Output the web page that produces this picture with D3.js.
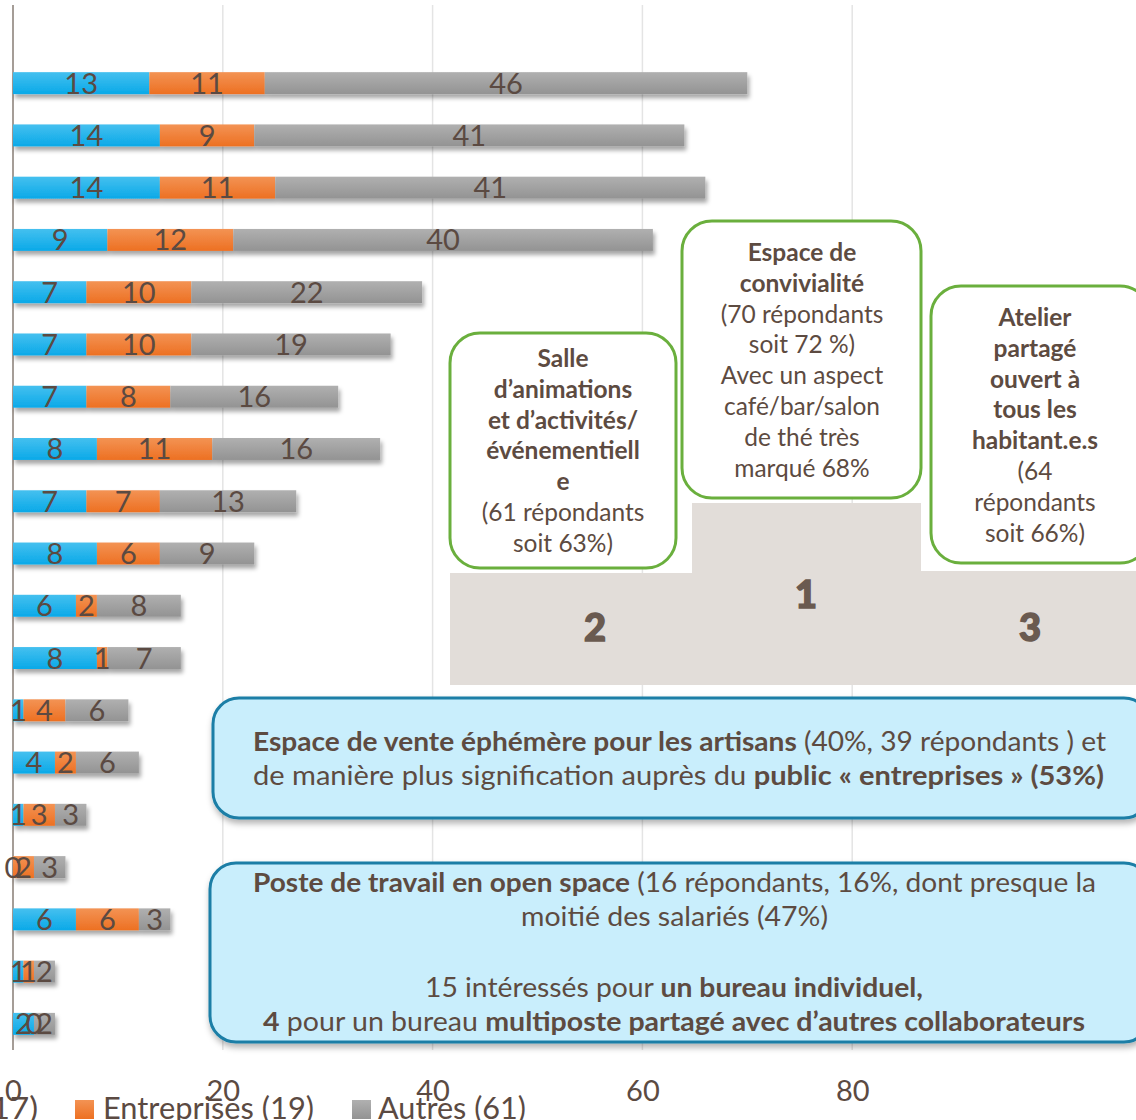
<!DOCTYPE html>
<html>
<head>
<meta charset="utf-8">
<script src="https://cdn.jsdelivr.net/npm/d3@7"></script>
<style>
  html, body { margin: 0; padding: 0; background: #fff; overflow: hidden; }
  svg { display: block; font-family: Lato, "Open Sans", sans-serif; }
</style>
</head>
<body>
<div id="chart"></div>
<script>
// ---------------------------------------------------------------------------
// Data (rows from top to bottom)

const categories = [
  'Espace de convivialité', 'Atelier partagé', 'Café / bar', 'Salle d\u2019animations',
  'Espace de vente éphémère', 'Item 6', 'Item 7', 'Item 8', 'Item 9', 'Item 10',
  'Item 11', 'Poste en open space', 'Item 13', 'Item 14', 'Item 15', 'Item 16',
  'Bureau individuel', 'Bureau multiposte', 'Item 19'
];
const salaries    = [13, 14, 14, 9, 7, 7, 7, 8, 7, 8, 6, 8, 1, 4, 1, 0, 6, 1, 2];
const entreprises = [11, 9, 11, 12, 10, 10, 8, 11, 7, 6, 2, 1, 4, 2, 3, 2, 6, 1, 0];
const autres      = [46, 41, 41, 40, 22, 19, 16, 16, 13, 9, 8, 7, 6, 6, 3, 3, 3, 2, 2];

const seriesNames = ['Salariés (17)', 'Entreprises (19)', 'Autres (61)'];
const tickValues = [0, 20, 40, 60, 80];

// ---------------------------------------------------------------------------
// Setup

const width = 1136;
const height = 1120;
const textColor = '#5b4a42';

const svg = d3.select('#chart').append('svg')
  .attr('width', width)
  .attr('height', height);

const defs = svg.append('defs');

function vGradient(id, top, bottom) {
  let g = defs.append('linearGradient')
    .attr('id', id)
    .attr('x1', 0).attr('y1', 0).attr('x2', 0).attr('y2', 1);
  g.append('stop').attr('offset', '0%').attr('stop-color', top);
  g.append('stop').attr('offset', '100%').attr('stop-color', bottom);
}
vGradient('g-blue', '#45c0ef', '#0aa9e8');
vGradient('g-orange', '#f39354', '#ed7022');
vGradient('g-gray', '#b0b0b0', '#939393');

let shadow = defs.append('filter').attr('id', 'shadow')
  .attr('x', '-10%').attr('y', '-30%').attr('width', '130%').attr('height', '180%');
shadow.append('feDropShadow')
  .attr('dx', 2).attr('dy', 4).attr('stdDeviation', 2.2)
  .attr('flood-color', '#000').attr('flood-opacity', 0.35);

let boxShadow = defs.append('filter').attr('id', 'boxshadow')
  .attr('x', '-5%').attr('y', '-10%').attr('width', '115%').attr('height', '130%');
boxShadow.append('feDropShadow')
  .attr('dx', 1).attr('dy', 4).attr('stdDeviation', 3)
  .attr('flood-color', '#000').attr('flood-opacity', 0.3);

// ---------------------------------------------------------------------------
// Scales

const x = d3.scaleLinear().domain([0, 100]).range([13, 1062]);

const y = d3.scaleBand()
  .domain(categories)
  .range([57, 1050])
  .paddingInner(0.58)
  .paddingOuter(0.29);

const color = d3.scaleOrdinal()
  .domain(seriesNames)
  .range(['url(#g-blue)', 'url(#g-orange)', 'url(#g-gray)']);

// ---------------------------------------------------------------------------
// Grid + axis

svg.append('g')
  .selectAll('line')
  .data(tickValues.filter(d => d > 0))
  .enter()
  .append('line')
  .attr('x1', d => x(d)).attr('x2', d => x(d))
  .attr('y1', 5).attr('y2', 1050)
  .attr('stroke', '#e4e4e4')
  .attr('stroke-width', 1.5);

svg.append('line')
  .attr('x1', x(0)).attr('x2', x(0))
  .attr('y1', 5).attr('y2', 1050)
  .attr('stroke', '#a59d97')
  .attr('stroke-width', 2);

let xAxis = svg.append('g')
  .attr('transform', 'translate(0,1070)')
  .call(d3.axisBottom(x).tickValues(tickValues).tickSize(0).tickPadding(0));
xAxis.select('.domain').remove();
xAxis.selectAll('text')
  .attr('y', 31)
  .attr('dy', null)
  .attr('fill', textColor)
  .style('font-size', '29px')
  .style('font-family', 'Lato, sans-serif');

// ---------------------------------------------------------------------------
// Stacked bars

const rows = categories.map((c, i) => ({
  category: c,
  [seriesNames[0]]: salaries[i],
  [seriesNames[1]]: entreprises[i],
  [seriesNames[2]]: autres[i]
}));

const stack = d3.stack().keys(seriesNames);
const stacked = stack(rows);

let barsLayer = svg.append('g').attr('filter', 'url(#shadow)');
barsLayer.selectAll('g')
  .data(stacked)
  .enter()
  .append('g')
  .attr('fill', d => color(d.key))
  .selectAll('rect')
  .data(d => d)
  .enter()
  .append('rect')
  .attr('x', d => x(d[0]))
  .attr('y', d => y(d.data.category))
  .attr('width', d => x(d[1]) - x(d[0]))
  .attr('height', y.bandwidth());

let labelLayer = svg.append('g');
stacked.forEach(layer => {
  labelLayer.selectAll(null)
    .data(layer)
    .enter()
    .append('text')
    .attr('x', d => (x(d[0]) + x(d[1])) / 2)
    .attr('y', d => y(d.data.category) + y.bandwidth() / 2 + 10.5)
    .attr('text-anchor', 'middle')
    .attr('fill', textColor)
    .style('font-size', '29px')
    .text(d => d[1] - d[0]);
});

// ---------------------------------------------------------------------------
// Legend (partly cut at the bottom / left like the original)

const legendItems = [
  { name: seriesNames[0], fill: '#1fb1e8', sq: -160, tx: -137, len: 175 },
  { name: seriesNames[1], fill: 'url(#g-orange)', sq: 75, tx: 103, len: 211 },
  { name: seriesNames[2], fill: 'url(#g-gray)', sq: 352, tx: 378, len: 148 }
];
let legend = svg.append('g');
legend.selectAll('rect')
  .data(legendItems)
  .enter()
  .append('rect')
  .attr('x', d => d.sq).attr('y', 1100)
  .attr('width', 19).attr('height', 19)
  .attr('fill', d => d.fill);
legend.selectAll('text')
  .data(legendItems)
  .enter()
  .append('text')
  .attr('x', d => d.tx).attr('y', 1119)
  .attr('fill', textColor)
  .attr('textLength', d => d.len)
  .attr('lengthAdjust', 'spacingAndGlyphs')
  .style('font-size', '31px')
  .text(d => d.name);

// ---------------------------------------------------------------------------
// Podium

const podium = [
  { rank: '2', x0: 450, x1: 692, top: 573, tx: 595, ty: 641 },
  { rank: '1', x0: 692, x1: 921, top: 503, tx: 806, ty: 608 },
  { rank: '3', x0: 921, x1: 1136, top: 571, tx: 1030, ty: 641 }
];
let pod = svg.append('g');
pod.selectAll('rect')
  .data(podium)
  .enter()
  .append('rect')
  .attr('x', d => d.x0).attr('y', d => d.top)
  .attr('width', d => d.x1 - d.x0).attr('height', d => 685 - d.top)
  .attr('fill', '#e2ddd9');
pod.selectAll('text')
  .data(podium)
  .enter()
  .append('text')
  .attr('x', d => d.tx)
  .attr('y', d => d.ty)
  .attr('text-anchor', 'middle')
  .attr('fill', '#6a5a50')
  .attr('stroke', '#6a5a50')
  .attr('stroke-width', 1.5)
  .style('font-size', '38px')
  .style('font-weight', 900)
  .text(d => d.rank);

// ---------------------------------------------------------------------------
// Annotation boxes

function richLine(g, line, cx, yy, size, len) {
  let t = g.append('text')
    .attr('x', cx).attr('y', yy)
    .attr('text-anchor', 'middle')
    .attr('fill', '#5d4b41')
    .style('font-size', size + 'px');
  line.forEach(seg => {
    t.append('tspan')
      .style('font-weight', seg.b ? 700 : 400)
      .text(seg.t);
  });
  if (len) {
    t.attr('textLength', len).attr('lengthAdjust', 'spacingAndGlyphs');
  }
  return t;
}

const greenBoxes = [
  { x0: 450, y0: 333, x1: 676, y1: 568, cx: 563, firstY: 367, lines: [
    [{ t: 'Salle', b: 1 }], [{ t: 'd\u2019animations', b: 1 }], [{ t: 'et d\u2019activités/', b: 1 }],
    [{ t: 'événementiell', b: 1 }], [{ t: 'e', b: 1 }], [{ t: '(61 répondants' }], [{ t: 'soit 63%)' }]
  ] },
  { x0: 682, y0: 221, x1: 921, y1: 498, cx: 802, firstY: 261, lines: [
    [{ t: 'Espace de', b: 1 }], [{ t: 'convivialité', b: 1 }], [{ t: '(70 répondants' }],
    [{ t: 'soit 72 %)' }], [{ t: 'Avec un aspect' }], [{ t: 'café/bar/salon' }],
    [{ t: 'de thé très' }], [{ t: 'marqué 68%' }]
  ] },
  { x0: 931, y0: 286, x1: 1150, y1: 563, cx: 1035, firstY: 326, lines: [
    [{ t: 'Atelier', b: 1 }], [{ t: 'partagé', b: 1 }], [{ t: 'ouvert à', b: 1 }],
    [{ t: 'tous les', b: 1 }], [{ t: 'habitant.e.s', b: 1 }], [{ t: '(64' }],
    [{ t: 'répondants' }], [{ t: 'soit 66%)' }]
  ] }
];

let gb = svg.append('g');
greenBoxes.forEach(bx => {
  gb.append('rect')
    .attr('x', bx.x0).attr('y', bx.y0)
    .attr('width', bx.x1 - bx.x0).attr('height', bx.y1 - bx.y0)
    .attr('rx', 30).attr('ry', 30)
    .attr('fill', '#fff')
    .attr('stroke', '#6aaf3d')
    .attr('stroke-width', 3);
  bx.lines.forEach((ln, i) => {
    let t = richLine(gb, ln, bx.cx, bx.firstY + i * 30.8, 24.5);
    let w = t.node().getComputedTextLength();
    if (w > bx.x1 - bx.x0 - 58) {
      t.attr('textLength', bx.x1 - bx.x0 - 62).attr('lengthAdjust', 'spacingAndGlyphs');
    }
  });
});

const blueBoxes = [
  { x0: 213, y0: 698, x1: 1150, y1: 818, lines: [
    { y: 751, cx: 679.5, len: 853, segs: [{ t: 'Espace de vente éphémère pour les artisans', b: 1 }, { t: ' (40%, 39 répondants ) et' }] },
    { y: 785, cx: 678.5, len: 851, segs: [{ t: 'de manière plus signification auprès du ' }, { t: 'public « entreprises » (53%)', b: 1 }] }
  ] },
  { x0: 210, y0: 863, x1: 1150, y1: 1042, lines: [
    { y: 892, cx: 674.5, len: 843, segs: [{ t: 'Poste de travail en open space', b: 1 }, { t: ' (16 répondants, 16%, dont presque la' }] },
    { y: 926, cx: 674.5, len: 307, segs: [{ t: 'moitié des salariés (47%)' }] },
    { y: 997, cx: 674, len: 498, segs: [{ t: '15 intéressés pour ' }, { t: 'un bureau individuel,', b: 1 }] },
    { y: 1031, cx: 674, len: 822, segs: [{ t: '4', b: 1 }, { t: ' pour un bureau ' }, { t: 'multiposte partagé avec d\u2019autres collaborateurs', b: 1 }] }
  ] }
];

let bb = svg.append('g');
blueBoxes.forEach(bx => {
  bb.append('rect')
    .attr('x', bx.x0).attr('y', bx.y0)
    .attr('width', bx.x1 - bx.x0).attr('height', bx.y1 - bx.y0)
    .attr('rx', 26).attr('ry', 26)
    .attr('fill', '#c9eefc')
    .attr('stroke', '#1b7ea6')
    .attr('stroke-width', 3)
    .attr('filter', 'url(#boxshadow)');
});
blueBoxes.forEach(bx => {
  bx.lines.forEach(ln => {
    richLine(bb, ln.segs, ln.cx, ln.y, 26, ln.len);
  });
});
</script>
</body>
</html>
